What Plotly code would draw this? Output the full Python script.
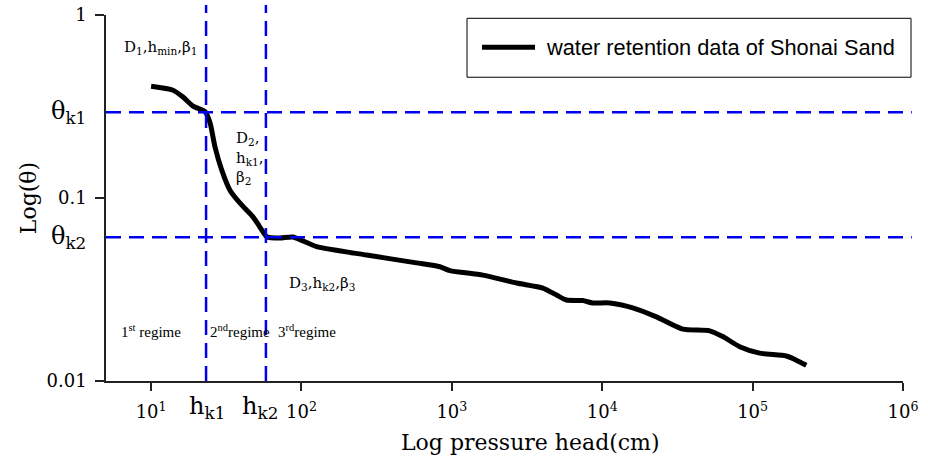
import plotly.graph_objects as go

# pressure head h (cm) and water content theta
h_vals = [10.0, 14.0, 16.3, 19.0, 22.9, 24.7, 26.6, 29.5, 33.5, 39.0, 47.6, 55.5, 58.7,
          71.9, 87.7, 126, 271, 582, 832, 971, 1607, 2692, 4027, 4966, 5781, 7413,
          8650, 11220, 15960, 22910, 34280, 51760, 63240, 82040, 111400, 167500,
          195400, 227500]
theta_vals = [0.408, 0.388, 0.356, 0.318, 0.296, 0.256, 0.190, 0.142, 0.110, 0.0938,
              0.0789, 0.0653, 0.0614, 0.0604, 0.0612, 0.0542, 0.0488, 0.0442, 0.0421,
              0.0401, 0.0379, 0.0343, 0.0322, 0.0295, 0.0277, 0.0275, 0.0267, 0.0267,
              0.0251, 0.0224, 0.0192, 0.0188, 0.0175, 0.0154, 0.0142, 0.0137, 0.0130,
              0.0122]

h_k1, h_k2 = 23.2, 58.0
theta_k1, theta_k2 = 0.294, 0.061

x_tickvals = [10, 100, 1000, 10000, 100000, 1000000]
x_ticktext = ["10<sup>1</sup>", "10<sup>2</sup>", "10<sup>3</sup>", "10<sup>4</sup>",
              "10<sup>5</sup>", "10<sup>6</sup>"]
y_tickvals = [1, 0.1, 0.01]
y_ticktext = ["1", "0.1", "0.01"]

legend_label = "water retention data of Shonai Sand"
x_title = "Log pressure head(cm)"
y_title = "Log(θ)"
serif = "DejaVu Serif"
serif2 = "Liberation Serif"
blue = "#0000EE"

fig = go.Figure()
fig.add_trace(go.Scatter(x=h_vals, y=theta_vals, mode="lines",
                         line=dict(color="black", width=5, shape="spline", smoothing=0.6),
                         name=legend_label, showlegend=False))

dash = "15px,8px"
shapes = [
    dict(type="line", xref="x", yref="paper", x0=h_k1, x1=h_k1, y0=0, y1=1.027,
         line=dict(color=blue, width=2.5, dash=dash)),
    dict(type="line", xref="x", yref="paper", x0=h_k2, x1=h_k2, y0=0, y1=1.027,
         line=dict(color=blue, width=2.5, dash=dash)),
    dict(type="line", xref="paper", yref="y", x0=0, x1=1.011, y0=theta_k1, y1=theta_k1,
         line=dict(color=blue, width=2.5, dash=dash)),
    dict(type="line", xref="paper", yref="y", x0=0, x1=1.011, y0=theta_k2, y1=theta_k2,
         line=dict(color=blue, width=2.5, dash=dash)),
    # manual legend box and sample line
    dict(type="rect", xref="paper", yref="paper", x0=(467-106)/797, x1=(911-106)/797,
         y0=(381-77)/366.3, y1=(381-18)/366.3, line=dict(color="black", width=1),
         fillcolor="white"),
    dict(type="line", xref="paper", yref="paper", x0=(482-106)/797, x1=(535-106)/797,
         y0=(381-47)/366.3, y1=(381-47)/366.3, line=dict(color="black", width=5)),
]

def px2paper(px, py):
    return (px - 106) / 797, (381 - py) / 366.3

annots = []
def add(text, px, py, size, xanchor="center", yanchor="middle", font=serif, align="center",
        angle=0):
    x, y = px2paper(px, py)
    annots.append(dict(text=text, x=x, y=y, xref="paper", yref="paper", showarrow=False,
                       xanchor=xanchor, yanchor=yanchor, align=align, textangle=angle,
                       font=dict(family=font, size=size, color="black")))

add(legend_label, 544, 47, 21.8, xanchor="left", font="Liberation Sans")
add("D<sub>1</sub>,h<sub>min</sub>,β<sub>1</sub>", 122, 47, 15, xanchor="left")
add("D<sub>2</sub>,<br>h<sub>k1</sub>,<br>β<sub>2</sub>", 234, 158, 15, xanchor="left", align="left")
add("D<sub>3</sub>,h<sub>k2</sub>,β<sub>3</sub>", 287, 283, 15, xanchor="left")
add("1<sup>st</sup> regime", 119, 331, 15, xanchor="left", font=serif2)
add("2<sup>nd</sup>regime", 208, 331, 15, xanchor="left", font=serif2)
add("3<sup>rd</sup>regime", 276, 331, 15, xanchor="left", font=serif2)
add("θ<sub>k1</sub>", 88, 112, 24, xanchor="right")
add("θ<sub>k2</sub>", 88, 237, 24, xanchor="right")
add("h<sub>k1</sub>", 207, 408, 24)
add("h<sub>k2</sub>", 260, 408, 24)
add(x_title, 530, 443, 22)
add(y_title, 28, 198, 22, angle=-90)

fig.update_layout(
    width=928, height=463,
    margin=dict(l=106, r=25, t=15, b=82),
    paper_bgcolor="white", plot_bgcolor="white",
    shapes=shapes, annotations=annots, showlegend=False,
    xaxis=dict(type="log", range=[0.70, 6.0], tickvals=x_tickvals, ticktext=x_ticktext,
               automargin=False, ticklabelstandoff=6,
               showgrid=False, zeroline=False, showline=True, linecolor="#222", linewidth=1.5,
               ticks="outside", ticklen=8, tickcolor="#222", tickwidth=1.5,
               tickfont=dict(family=serif, size=18, color="black")),
    yaxis=dict(type="log", range=[-2, 0], tickvals=y_tickvals, ticktext=y_ticktext,
               automargin=False, ticklabelstandoff=5,
               showgrid=False, zeroline=False, showline=True, linecolor="#222", linewidth=1.5,
               ticks="outside", ticklen=9, tickcolor="#222", tickwidth=1.5,
               tickfont=dict(family=serif, size=18, color="black")),
)

fig.write_html("out.html")
